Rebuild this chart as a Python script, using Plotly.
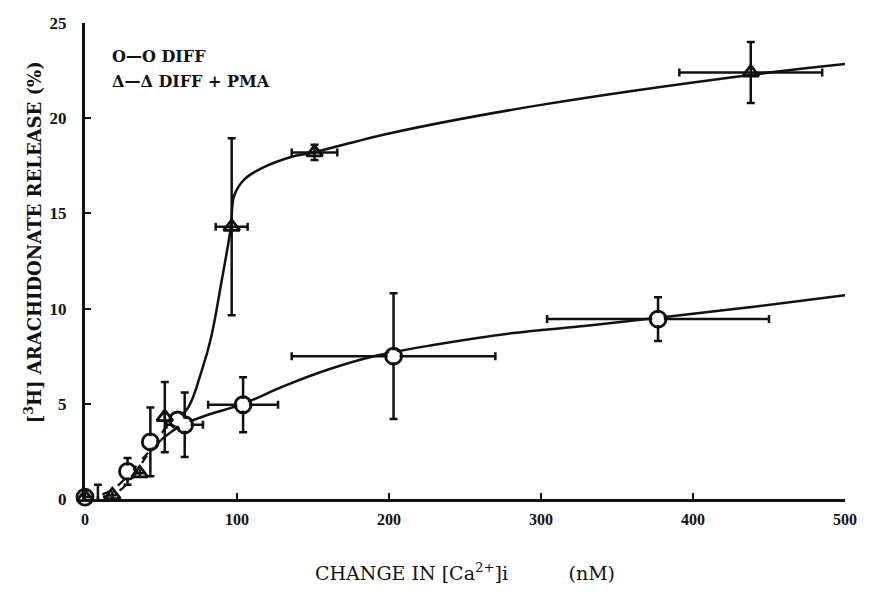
import plotly.graph_objects as go

# DIFF (open circles)
diff_x = [0, 8.5, 28, 43, 61, 65.6, 104, 203, 377]
diff_y = [0.1, -0.05, 1.45, 3.0, 4.15, 3.9, 4.95, 7.5, 9.45]
diff_yerr = [0, 0.8, 0.7, 1.8, 0, 1.7, 1.45, 3.3, 1.15]
diff_xerr = [0, 0, 0, 0, 0, 12, 23, 67, 73]

# DIFF + PMA (open triangles)
pma_x = [0, 18, 36, 52.5, 96.5, 151, 438]
pma_y = [0.1, 0.2, 1.35, 4.3, 14.3, 18.2, 22.4]
pma_yerr = [0, 0, 0, 1.85, 4.65, 0.4, 1.6]
pma_xerr = [0, 0, 0, 0, 10.5, 15, 47]

# hand-drawn fitted curves (dashed near the origin, solid after)
diff_curve_x = [0, 10, 20, 30, 40, 50, 60, 70, 80, 104, 130, 160, 190, 230, 280, 330, 380, 440, 500]
diff_curve_y = [0, 0.2, 0.6, 1.4, 2.3, 3.1, 3.7, 4.1, 4.4, 5.0, 5.9, 6.8, 7.5, 8.1, 8.7, 9.1, 9.55, 10.1, 10.7]
diff_dash_end = 5

pma_curve_x = [0, 10, 20, 30, 40, 55, 67, 77, 83, 90, 96, 98, 105, 117, 135, 150, 200, 300, 440, 500]
pma_curve_y = [0, 0.1, 0.3, 1.0, 2.2, 4.0, 4.7, 6.8, 8.5, 11.5, 14.3, 15.9, 16.8, 17.4, 17.95, 18.2, 19.2, 20.7, 22.3, 22.85]
pma_dash_end = 5

black = "#111111"
fig = go.Figure()

for cx, cy, cut in [(diff_curve_x, diff_curve_y, diff_dash_end),
                    (pma_curve_x, pma_curve_y, pma_dash_end)]:
    fig.add_trace(go.Scatter(x=cx[:cut + 1], y=cy[:cut + 1], mode="lines",
                             line=dict(color=black, width=2.2, shape="spline", dash="dash"),
                             showlegend=False, cliponaxis=False))
    fig.add_trace(go.Scatter(x=cx[cut:], y=cy[cut:], mode="lines",
                             line=dict(color=black, width=2.5, shape="spline"),
                             showlegend=False, cliponaxis=False))

err_style = dict(type="data", color=black, thickness=2.5, width=4)
fig.add_trace(go.Scatter(
    x=diff_x, y=diff_y, mode="markers",
    marker=dict(symbol="circle-open", size=16, color=black, line=dict(width=2.8)),
    error_y=dict(array=diff_yerr, **err_style),
    error_x=dict(array=diff_xerr, **err_style),
    showlegend=False, cliponaxis=False))
fig.add_trace(go.Scatter(
    x=diff_x, y=diff_y, mode="markers",
    marker=dict(symbol="circle", size=12, color="white"),
    showlegend=False, cliponaxis=False, hoverinfo="skip"))
fig.add_trace(go.Scatter(
    x=pma_x, y=pma_y, mode="markers",
    marker=dict(symbol="triangle-up-open", size=14, color=black, line=dict(width=2.8)),
    error_y=dict(array=pma_yerr, **err_style),
    error_x=dict(array=pma_xerr, **err_style),
    showlegend=False, cliponaxis=False))

serif = "Liberation Serif"
wide = "DejaVu Serif"
fig.add_annotation(x=0.033, y=0.954, xref="paper", yref="paper", xanchor="left",
                   text="<b>O—O DIFF</b>",
                   showarrow=False, font=dict(family=wide, size=16, color=black))
fig.add_annotation(x=0.033, y=0.901, xref="paper", yref="paper", xanchor="left",
                   text="<b>Δ—Δ DIFF + PMA</b>", showarrow=False,
                   font=dict(family=wide, size=16, color=black))
# y axis title, placed by hand like the original
fig.add_annotation(x=-0.068, y=0.54, xref="paper", yref="paper",
                   xanchor="center", yanchor="middle",
                   text="<b>[<sup>3</sup>H] ARACHIDONATE RELEASE (%)</b>",
                   textangle=-90, showarrow=False,
                   font=dict(family=wide, size=18, color=black))

fig.update_layout(
    width=869, height=597,
    margin=dict(l=85, r=22, t=23, b=98),
    plot_bgcolor="white", paper_bgcolor="white",
    font=dict(family=serif, color=black),
)
fig.update_xaxes(range=[0, 500], tickvals=[0, 100, 200, 300, 400, 500],
                 ticks="inside", ticklen=6, tickwidth=2, tickcolor=black,
                 showline=True, linewidth=3, linecolor=black, showgrid=False,
                 zeroline=False, tickfont=dict(size=16, family=serif, weight="bold"),
                 ticklabelstandoff=4,
                 title=dict(text="CHANGE IN [Ca<sup>2+</sup>]i"
                                 + "&nbsp;" * 10 + "(nM)",
                            font=dict(size=19, family=wide), standoff=40))
fig.update_yaxes(range=[0, 25], tickvals=[0, 5, 10, 15, 20, 25],
                 ticks="inside", ticklen=6, tickwidth=2, tickcolor=black,
                 showline=True, linewidth=3, linecolor=black, showgrid=False,
                 zeroline=False, tickfont=dict(size=17, family=serif, weight="bold"),
                 ticklabelstandoff=12)

fig.write_html("out.html", config={"displayModeBar": False},
               post_script="document.body.style.margin='0';")
